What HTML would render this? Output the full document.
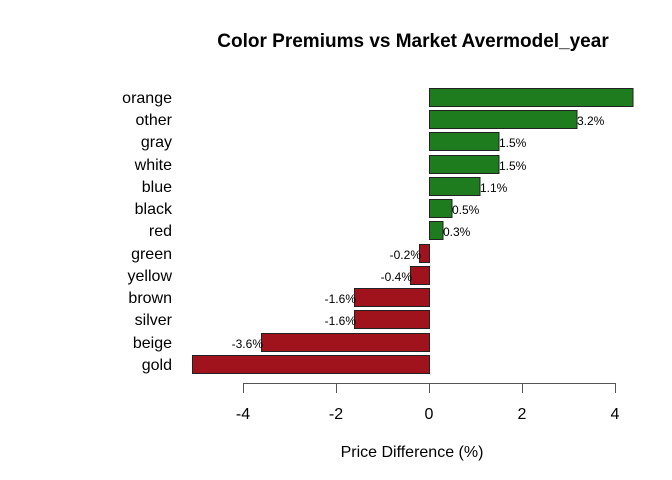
<!DOCTYPE html>
<html><head><meta charset="utf-8"><style>
html,body{margin:0;padding:0;background:#fff;}
svg{display:block;font-family:"Liberation Sans",Arial,sans-serif;}
</style></head><body>
<svg width="672" height="480" viewBox="0 0 672 480" xmlns="http://www.w3.org/2000/svg">
<rect width="672" height="480" fill="#fff"/>
<text x="413" y="47" text-anchor="middle" font-size="19" font-weight="bold" fill="#000">Color Premiums vs Market Avermodel_year</text>
<g stroke="#222" stroke-width="1">
<rect x="429.5" y="88.5" width="203.5" height="18" fill="#1e7b1e"/>
<rect x="429.5" y="110.5" width="147.5" height="18" fill="#1e7b1e"/>
<rect x="429.5" y="132.5" width="69.5" height="18" fill="#1e7b1e"/>
<rect x="429.5" y="155.5" width="69.5" height="18" fill="#1e7b1e"/>
<rect x="429.5" y="177.5" width="50.5" height="18" fill="#1e7b1e"/>
<rect x="429.5" y="199.5" width="22.5" height="18" fill="#1e7b1e"/>
<rect x="429.5" y="221.5" width="13.5" height="18" fill="#1e7b1e"/>
<rect x="419.5" y="244.5" width="10" height="18" fill="#a0121c"/>
<rect x="410.5" y="266.5" width="19" height="18" fill="#a0121c"/>
<rect x="354.5" y="288.5" width="75" height="18" fill="#a0121c"/>
<rect x="354.5" y="310.5" width="75" height="18" fill="#a0121c"/>
<rect x="261.5" y="333.5" width="168" height="18" fill="#a0121c"/>
<rect x="192.5" y="355.5" width="237" height="18" fill="#a0121c"/>
</g>
<g font-size="16" text-anchor="end" fill="#000">
<text x="172" y="103">orange</text>
<text x="172" y="125">other</text>
<text x="172" y="147">gray</text>
<text x="172" y="170">white</text>
<text x="172" y="192">blue</text>
<text x="172" y="214">black</text>
<text x="172" y="236">red</text>
<text x="172" y="259">green</text>
<text x="172" y="281">yellow</text>
<text x="172" y="303">brown</text>
<text x="172" y="325">silver</text>
<text x="172" y="348">beige</text>
<text x="172" y="370">gold</text>
</g>
<g font-size="12" fill="#000">
<text x="577" y="125">3.2%</text>
<text x="499" y="147">1.5%</text>
<text x="499" y="170">1.5%</text>
<text x="480" y="192">1.1%</text>
<text x="452" y="214">0.5%</text>
<text x="443" y="236">0.3%</text>
<g text-anchor="end">
<text x="421" y="259">-0.2%</text>
<text x="412" y="281">-0.4%</text>
<text x="356" y="303">-1.6%</text>
<text x="356" y="325">-1.6%</text>
<text x="263" y="348">-3.6%</text>
</g>
</g>
<g stroke="#555" stroke-width="1" fill="none">
<line x1="243" y1="383.5" x2="615" y2="383.5"/>
<line x1="243.5" y1="383" x2="243.5" y2="393"/>
<line x1="336.5" y1="383" x2="336.5" y2="393"/>
<line x1="429.5" y1="383" x2="429.5" y2="393"/>
<line x1="522.5" y1="383" x2="522.5" y2="393"/>
<line x1="615.5" y1="383" x2="615.5" y2="393"/>
</g>
<g font-size="16" text-anchor="middle" fill="#000">
<text x="243" y="419">-4</text>
<text x="336" y="419">-2</text>
<text x="429" y="419">0</text>
<text x="522" y="419">2</text>
<text x="615" y="419">4</text>
<text x="412" y="457">Price Difference (%)</text>
</g>
</svg>
</body></html>
